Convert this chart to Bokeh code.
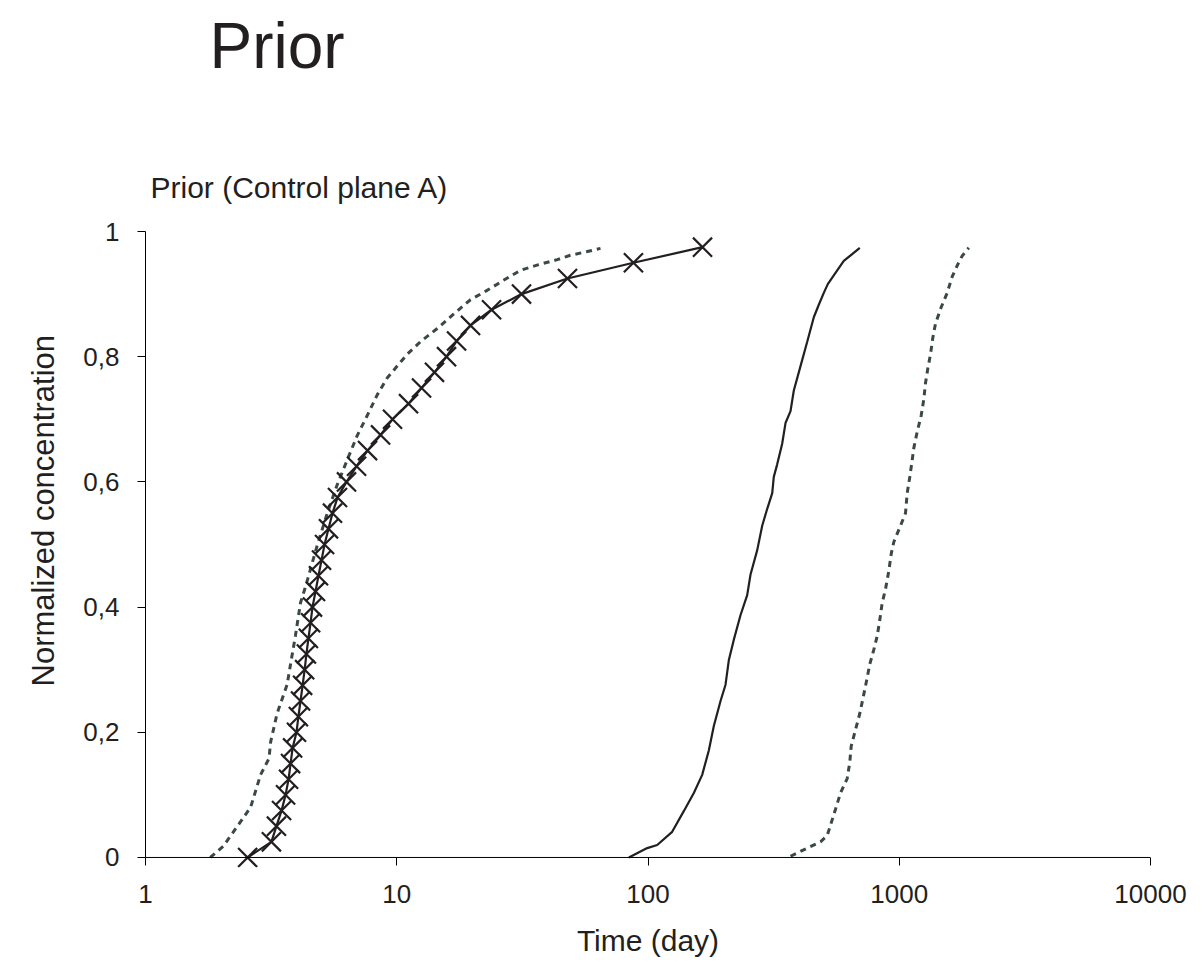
from bokeh.plotting import figure
from bokeh.models import FixedTicker, CustomJSTickFormatter, Title, Range1d, Span
from bokeh.embed import file_html
from bokeh.resources import INLINE

# ---- data ----
# Series A: solid line with x markers
a_time = [2.55, 3.17, 3.32, 3.48, 3.61, 3.71, 3.78, 3.85, 3.99, 4.06,
          4.14, 4.22, 4.30, 4.37, 4.45, 4.54, 4.62, 4.75, 4.88, 5.02,
          5.16, 5.35, 5.55, 5.81, 6.31, 6.92, 7.65, 8.62, 9.62, 11.14,
          12.55, 14.13, 15.78, 17.3, 19.66, 23.84, 31.37, 47.81, 87.5, 164.8]
a_conc = [0.0, 0.025, 0.05, 0.075, 0.1, 0.125, 0.15, 0.175, 0.2, 0.225,
          0.25, 0.275, 0.3, 0.325, 0.35, 0.375, 0.4, 0.425, 0.45, 0.475,
          0.5, 0.525, 0.55, 0.575, 0.6, 0.625, 0.65, 0.675, 0.7, 0.725,
          0.75, 0.775, 0.8, 0.825, 0.85, 0.875, 0.9, 0.925, 0.95, 0.975]

# Series B: dashed curve next to series A
b_time = [1.81, 2.04, 2.62, 2.87, 3.10, 3.15, 3.34, 3.66, 3.78, 3.95,
          4.14, 4.33, 4.82, 5.29, 5.79, 6.35, 6.96, 7.63, 8.36, 9.16,
          10.04, 11.01, 12.43, 14.49, 16.83, 19.66, 22.9, 26.6, 31.1, 36.7,
          43.5, 49.1, 57.3, 64.7]
b_conc = [0.0, 0.018, 0.08, 0.132, 0.158, 0.185, 0.23, 0.276, 0.309, 0.354,
          0.407, 0.432, 0.498, 0.55, 0.595, 0.635, 0.674, 0.706, 0.739, 0.766,
          0.785, 0.804, 0.824, 0.845, 0.868, 0.891, 0.906, 0.922, 0.938, 0.947,
          0.955, 0.962, 0.968, 0.973]

# Series C: solid curve (middle)
c_time = [83.9, 99.3, 108.8, 124.8, 138.8, 152.2, 164.3, 174.6, 182.8, 194.4,
          203.5, 209.7, 219.6, 233.4, 248.2, 255.9, 272.1, 284.8, 298.2, 312.2,
          316.7, 326.7, 342.0, 352.6, 369.2, 380.5, 404.6, 430.2, 457.0, 478.4,
          500.8, 519.5, 557.5, 601.6, 649.6, 696.6]
c_conc = [0.0, 0.015, 0.02, 0.041, 0.074, 0.103, 0.132, 0.171, 0.21, 0.25,
          0.276, 0.315, 0.348, 0.387, 0.419, 0.452, 0.491, 0.53, 0.557, 0.582,
          0.608, 0.628, 0.661, 0.694, 0.713, 0.746, 0.785, 0.824, 0.863, 0.883,
          0.902, 0.916, 0.934, 0.953, 0.964, 0.974]

# Series D: dashed curve (right)
d_time = [369.2, 430.2, 486.0, 516.7, 557.5, 583.6, 620.5, 635.5, 643.8, 669.6,
          696.6, 718.7, 740.9, 763.6, 792.1, 817.2, 837.0, 855.5, 881.9, 909.0,
          929.0, 951.3, 1011.6, 1059.0, 1075.5, 1101.6, 1126.0, 1142.6, 1178.7, 1222.7,
          1252.3, 1272.0, 1299.0, 1331.6, 1359.9, 1394.0, 1468.7, 1551.7, 1624.5, 1725.8,
          1780.3, 1891.5]
d_conc = [0.002, 0.015, 0.025, 0.035, 0.077, 0.103, 0.126, 0.152, 0.178, 0.204,
          0.23, 0.256, 0.282, 0.309, 0.332, 0.354, 0.38, 0.407, 0.429, 0.458,
          0.485, 0.504, 0.53, 0.55, 0.582, 0.608, 0.635, 0.654, 0.68, 0.706,
          0.732, 0.758, 0.781, 0.804, 0.83, 0.853, 0.879, 0.902, 0.928, 0.951,
          0.961, 0.974]

x_ticks = [1, 10, 100, 1000, 10000]
y_ticks = [0, 0.2, 0.4, 0.6, 0.8, 1.0]

FONT = "Liberation Sans"
INK = "#231f20"
GREY = "#3b4848"

# The y range starts a little below 0 so that the lowest marker is not cut off.
# The x axis line is drawn at y = 0 with a Span; the axis ticks are shifted up
# so they hang down from y = 0, and the y axis line is bounded to [0, 1].
p = figure(width=1190, height=976, x_axis_type="log",
           x_range=Range1d(1, 10000), y_range=Range1d(-0.016, 1),
           output_backend="svg", toolbar_location=None,
           min_border_left=145, min_border_right=40, min_border_bottom=109,
           min_border_top=0)

# outermost title: big "Prior"
p.title.text = "Prior"
p.title.text_font = FONT
p.title.text_font_size = "64px"
p.title.text_font_style = "normal"
p.title.text_color = INK
p.title.align = "left"
p.title.offset = 64
p.title.standoff = 14

# closest to the frame: subtitle
sub = Title(text="Prior (Control plane A)", text_font=FONT, text_font_size="30px",
            text_font_style="normal", text_color=INK, align="left",
            offset=5, standoff=55)
p.add_layout(sub, "above")
# spacer between the two titles
spacer = Title(text=" ", text_font=FONT, text_font_size="20px", standoff=29)
p.add_layout(spacer, "above")

p.outline_line_color = None
p.xgrid.grid_line_color = None
p.ygrid.grid_line_color = None

for ax in (p.xaxis[0], p.yaxis[0]):
    ax.axis_line_color = "#000000"
    ax.axis_line_width = 1
    ax.major_tick_line_color = "#000000"
    ax.minor_tick_line_color = None
    ax.major_label_text_font = FONT
    ax.major_label_text_font_size = "26px"
    ax.major_label_text_color = INK
    ax.axis_label_text_font = FONT
    ax.axis_label_text_font_size = "30px"
    ax.axis_label_text_font_style = "normal"
    ax.axis_label_text_color = INK

p.xaxis.ticker = FixedTicker(ticks=x_ticks, minor_ticks=[])
p.xaxis.formatter = CustomJSTickFormatter(code="return Math.round(tick).toString();")
p.xaxis.axis_label = "Time (day)"
p.xaxis.axis_line_color = None
p.xaxis.major_tick_in = 10
p.xaxis.major_tick_out = -2
p.xaxis.major_label_standoff = 17
p.xaxis.axis_label_standoff = 18
p.add_layout(Span(location=0, dimension="width", line_color="#000000", line_width=1))

p.yaxis.ticker = FixedTicker(ticks=y_ticks, minor_ticks=[])
p.yaxis.formatter = CustomJSTickFormatter(
    code="return (Math.round(tick*10)/10).toString().replace('.', ',');")
p.yaxis.major_tick_in = 0
p.yaxis.major_tick_out = 8
p.yaxis.major_label_standoff = 18
p.yaxis.bounds = (0, 1)

# y axis title, placed a little above the middle of the axis as in the reference
ylab = Title(text="Normalized concentration", text_font=FONT, text_font_size="31px",
             text_font_style="normal", text_color=INK, align="left",
             offset=181, standoff=40)
p.add_layout(ylab, "left")

p.line(b_time, b_conc, line_color=GREY, line_width=3, line_dash="6 5")
p.line(d_time, d_conc, line_color=GREY, line_width=3, line_dash="6 5")
p.line(c_time, c_conc, line_color=INK, line_width=2.2)
p.line(a_time, a_conc, line_color=INK, line_width=2.2)
p.scatter(a_time, a_conc, marker="x", size=27, line_color=INK, line_width=2.2)

open("out.html", "w").write(file_html(p, INLINE))
